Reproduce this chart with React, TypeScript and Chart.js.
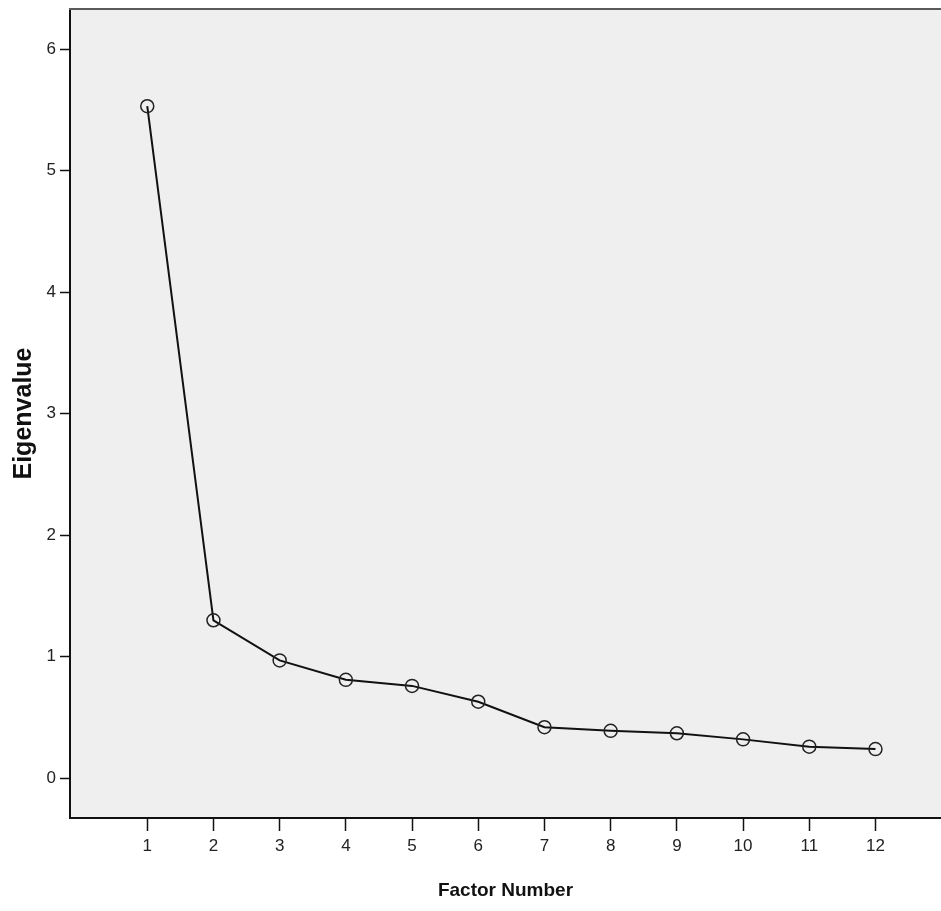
import React, { useEffect, useRef } from "react";
import { Chart, registerables } from "chart.js";

Chart.register(...registerables);

const factorNumbers = [1, 2, 3, 4, 5, 6, 7, 8, 9, 10, 11, 12];
const eigenvalues = [5.53, 1.3, 0.97, 0.81, 0.76, 0.63, 0.42, 0.39, 0.37, 0.32, 0.26, 0.24];
const yTickValues = [0, 1, 2, 3, 4, 5, 6];

const plotBg = {
  id: "plotBg",
  beforeDraw(chart: any) {
    const { ctx, chartArea } = chart;
    ctx.save();
    ctx.fillStyle = "#efefef";
    ctx.fillRect(chartArea.left, chartArea.top, chartArea.right - chartArea.left, chartArea.bottom - chartArea.top);
    ctx.restore();
  },
  afterDraw(chart: any) {
    const { ctx, chartArea } = chart;
    ctx.save();
    ctx.strokeStyle = "#5a5a5a";
    ctx.lineWidth = 2;
    ctx.beginPath();
    ctx.moveTo(chartArea.left - 1, chartArea.top);
    ctx.lineTo(chartArea.right, chartArea.top);
    ctx.stroke();
    ctx.restore();
  },
};

export default function App() {
  const ref = useRef<HTMLCanvasElement | null>(null);
  useEffect(() => {
    if (!ref.current) return;
    const chart = new Chart(ref.current, {
      type: "line",
      data: {
        datasets: [
          {
            data: factorNumbers.map((f, i) => ({ x: f, y: eigenvalues[i] })),
            borderColor: "#111111",
            borderWidth: 2,
            pointRadius: 6.5,
            pointBorderWidth: 1.5,
            pointBorderColor: "#222222",
            pointBackgroundColor: "rgba(0,0,0,0)",
            pointStyle: "circle",
            tension: 0,
          },
        ],
      },
      plugins: [plotBg],
      options: {
        animation: false,
        responsive: false,
        devicePixelRatio: 1,
        layout: { autoPadding: false, padding: { top: 9, left: 0, right: 0, bottom: 0 } },
        plugins: { legend: { display: false }, tooltip: { enabled: false } },
        scales: {
          x: {
            type: "linear",
            min: -0.167,
            max: 12.99,
            afterBuildTicks: (scale: any) => {
              scale.ticks = factorNumbers.map((v) => ({ value: v }));
            },
            afterFit: (scale: any) => {
              scale.height = 93;
              scale.paddingLeft = 0;
              scale.paddingRight = 0;
            },
            grid: { drawOnChartArea: false, drawTicks: true, tickLength: 13, tickColor: "#111", tickWidth: 1.5 },
            border: { display: true, color: "#111", width: 2 },
            ticks: {
              color: "#222",
              padding: 5,
              autoSkip: false,
              maxRotation: 0,
              font: { family: "'Liberation Sans', Arial, sans-serif", size: 17 },
              callback: (v: any) => String(v),
            },
            title: {
              display: true,
              text: "Factor Number",
              color: "#111",
              padding: { top: 0, bottom: 9 },
              font: { family: "'Liberation Sans', Arial, sans-serif", size: 19, weight: "bold" },
            },
          },
          y: {
            type: "linear",
            min: -0.327,
            max: 6.33,
            afterBuildTicks: (scale: any) => {
              scale.ticks = yTickValues.map((v) => ({ value: v }));
            },
            afterFit: (scale: any) => {
              scale.width = 70;
              scale.paddingTop = 0;
              scale.paddingBottom = 0;
            },
            grid: { drawOnChartArea: false, drawTicks: true, tickLength: 10, tickColor: "#111", tickWidth: 1.5 },
            border: { display: true, color: "#111", width: 2 },
            ticks: {
              color: "#222",
              padding: 4,
              font: { family: "'Liberation Sans', Arial, sans-serif", size: 17 },
              callback: (v: any) => String(v),
            },
            title: {
              display: true,
              text: "Eigenvalue",
              color: "#111",
              padding: { top: 9, bottom: 0 },
              font: { family: "'Liberation Sans', Arial, sans-serif", size: 25, weight: "bold" },
            },
          },
        },
      },
    } as any);
    return () => chart.destroy();
  }, []);
  return (
    <div style={{ position: "fixed", left: 0, top: 0, width: 941, height: 911, background: "#fff" }}>
      <canvas ref={ref} width={941} height={911} style={{ display: "block" }} />
    </div>
  );
}
